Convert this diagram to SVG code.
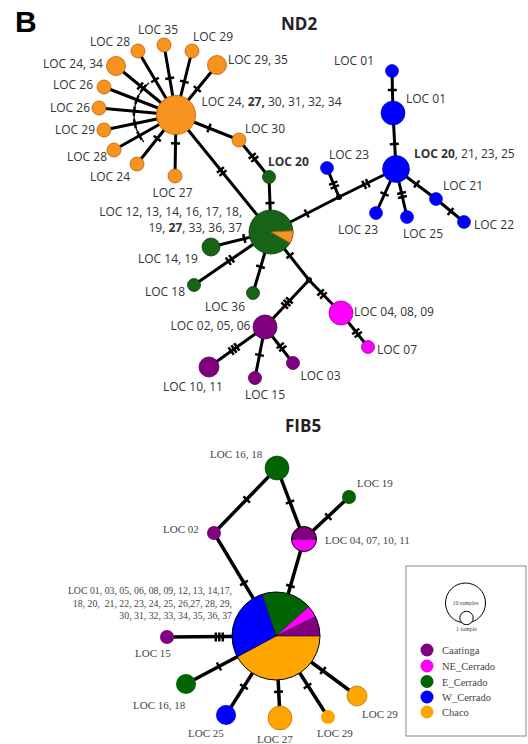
<svg xmlns="http://www.w3.org/2000/svg" xmlns:xlink="http://www.w3.org/1999/xlink" width="528" height="744" viewBox="0 0 528 744">
<style>
.e{stroke:#000;stroke-width:3;fill:none}
.fe{stroke:#000;stroke-width:3.5;fill:none}
.tk line{stroke:#000;stroke-width:2.5}
.lb{font-family:"Open Sans",sans-serif;font-size:12px;fill:#333}
.b{font-weight:bold}
.fl{font-family:"Liberation Serif",serif;font-size:11px;fill:#444}
.fs{font-family:"Liberation Serif",serif;font-size:9.8px;fill:#444}
.or{fill:#F7931E;stroke:#B8600A;stroke-width:0.8}
.gr{fill:#176417;stroke:#0d400d;stroke-width:0.8}
.bl{fill:#0000FF;stroke:#0000b0;stroke-width:0.6}
.pu{fill:#800080;stroke:#500050;stroke-width:0.8}
.ma{fill:#FF00FF;stroke:#a000a0;stroke-width:0.8}
.jn{fill:#000}
.fo{fill:#FFA500}
.fg{fill:#006400}
.fb{fill:#0000FF}
.fp{fill:#800080}
.fm{fill:#FF00FF}
.ol{fill:none;stroke:#000;stroke-width:1}
</style>
<defs>
<g id="t1" class="tk"><line x1="0" y1="-4.5" x2="0" y2="4.5"/></g>
<g id="t2" class="tk"><line x1="-2" y1="-4.5" x2="-2" y2="4.5"/><line x1="2" y1="-4.5" x2="2" y2="4.5"/></g>
<g id="t3" class="tk"><line x1="-3.5" y1="-4.5" x2="-3.5" y2="4.5"/><line x1="0" y1="-4.5" x2="0" y2="4.5"/><line x1="3.5" y1="-4.5" x2="3.5" y2="4.5"/></g>
</defs>
<rect width="528" height="744" fill="#fff"/>
<text x="15" y="32" style="font-family:'Liberation Sans',sans-serif;font-size:30px;font-weight:bold" fill="#000">B</text>
<text x="281" y="30" style="font-family:'Open Sans',sans-serif;font-size:17px;font-weight:bold" fill="#222">ND2</text>
<text x="285" y="432" style="font-family:'Open Sans',sans-serif;font-size:17px;font-weight:bold" fill="#222">FIB5</text>

<g id="connectors">
<g id="nd2-edges">
<path class="e" d="M176,115L138,51M176,115L164,45M176,115L192,51M176,115L217,65M176,115L116,66M176,115L104,87M176,115L99,108M176,115L104,130M176,115L114,150M176,115L137,164M176,115L175,176M176,115L239,140M176,115L271,232"/>
<path class="e" d="M239,140L269,177M269,177L271,232"/>
<path class="e" d="M271,232L211,247M271,232L194,285M271,232L253,293M271,232L309,280M271,232L339,197"/>
<path class="e" d="M339,197L327,168M339,197L396,169M396,169L393,113M393,113L392,71M396,169L376,213M396,169L407,217M396,169L436,199M436,199L464,222"/>
<path class="e" d="M309,280L265,327M309,280L341,313M341,313L368,347M265,327L209,367M265,327L255,378M265,327L293,363"/>
<path d="M149,82.8A42,42 0 0 0 143.8,142" fill="none" stroke="#000" stroke-width="1.2"/>
<use href="#t1" transform="translate(155,80) rotate(-120.7)"/>
<use href="#t1" transform="translate(169.7,78.3) rotate(-99.7)"/>
<use href="#t1" transform="translate(184.3,81.7) rotate(-76)"/>
<use href="#t1" transform="translate(197.3,89) rotate(-50.6)"/>
<use href="#t2" transform="translate(141.7,87.3) rotate(-140.8)"/>
<use href="#t1" transform="translate(136.9,99.8) rotate(-158.7)"/>
<use href="#t1" transform="translate(134.2,111.2) rotate(-174.8)"/>
<use href="#t1" transform="translate(134.9,123.6) rotate(168.2)"/>
<use href="#t1" transform="translate(139.4,135.6) rotate(150.6)"/>
<use href="#t1" transform="translate(157.3,138.5) rotate(128.5)"/>
<use href="#t1" transform="translate(175.6,143.3) rotate(91)"/>
<use href="#t1" transform="translate(209,128) rotate(21.6)"/>
<use href="#t2" transform="translate(221.7,171.5) rotate(50.9)"/>
<use href="#t2" transform="translate(253.5,157.5) rotate(51)"/>
<use href="#t1" transform="translate(270,203) rotate(88)"/>
<use href="#t1" transform="translate(244.3,238.5) rotate(166)"/>
<use href="#t2" transform="translate(230,260) rotate(145.5)"/>
<use href="#t1" transform="translate(260.5,266.7) rotate(106.4)"/>
<use href="#t1" transform="translate(290,255.5) rotate(51)"/>
<use href="#t3" transform="translate(287,303) rotate(133)"/>
<use href="#t2" transform="translate(322,294) rotate(45.9)"/>
<use href="#t2" transform="translate(357,333) rotate(51.5)"/>
<use href="#t3" transform="translate(234,349) rotate(144.5)"/>
<use href="#t1" transform="translate(259.5,355) rotate(101)"/>
<use href="#t2" transform="translate(281.5,347) rotate(52)"/>
<use href="#t1" transform="translate(306.7,213.5) rotate(-27.2)"/>
<use href="#t2" transform="translate(334,185) rotate(-112.5)"/>
<use href="#t2" transform="translate(366,184) rotate(-26.2)"/>
<use href="#t1" transform="translate(394.3,144) rotate(-93)"/>
<use href="#t1" transform="translate(392.3,90) rotate(-91.4)"/>
<use href="#t1" transform="translate(384.5,194) rotate(114.4)"/>
<use href="#t2" transform="translate(402,195) rotate(77)"/>
<use href="#t1" transform="translate(416.7,184) rotate(36.9)"/>
<use href="#t1" transform="translate(450.5,211.5) rotate(39.4)"/>
</g>
<g id="fib5-edges">
<path class="fe" d="M277,468L214,533M277,468L304,539M349,497L304,539M214,533L276,636M304,539L276,636M167,637L276,636M276,636L186,684M276,636L226,715M276,636L280,718M276,636L328,717M276,636L357,696"/>
<use href="#t1" transform="translate(246.7,499.5) rotate(134)"/>
<use href="#t1" transform="translate(290,502) rotate(69)"/>
<use href="#t1" transform="translate(328.3,516.7) rotate(137)"/>
<use href="#t1" transform="translate(244,583) rotate(59)"/>
<use href="#t1" transform="translate(290.4,586) rotate(106)"/>
<use href="#t3" transform="translate(219.3,637) rotate(0)"/>
<use href="#t1" transform="translate(219,666.5) rotate(152)"/>
<use href="#t1" transform="translate(244,686.7) rotate(122)"/>
<use href="#t1" transform="translate(278.5,691.7) rotate(87)"/>
<use href="#t1" transform="translate(307.5,686) rotate(57)"/>
<use href="#t1" transform="translate(323,670.5) rotate(36.5)"/>
</g>
</g>

<!-- ND2 nodes -->
<g id="o-hub"><circle class="or" cx="176" cy="115" r="19.5"/><text class="lb" x="201.5" y="106">LOC 24, <tspan class="b">27,</tspan> 30, 31, 32, 34</text></g>
<g id="o-28a"><circle class="or" cx="138" cy="51" r="7"/><text class="lb" x="90" y="46">LOC 28</text></g>
<g id="o-35"><circle class="or" cx="164" cy="45" r="7"/><text class="lb" x="138" y="34">LOC 35</text></g>
<g id="o-29a"><circle class="or" cx="192" cy="51" r="7"/><text class="lb" x="193" y="41">LOC 29</text></g>
<g id="o-2935"><circle class="or" cx="217" cy="65" r="9.5"/><text class="lb" x="228" y="64">LOC 29, 35</text></g>
<g id="o-2434"><circle class="or" cx="116" cy="66" r="9.5"/><text class="lb" x="43" y="68">LOC 24, 34</text></g>
<g id="o-26a"><circle class="or" cx="104" cy="87" r="7"/><text class="lb" x="53" y="89">LOC 26</text></g>
<g id="o-26b"><circle class="or" cx="99" cy="108" r="7"/><text class="lb" x="50" y="112">LOC 26</text></g>
<g id="o-29b"><circle class="or" cx="104" cy="130" r="7"/><text class="lb" x="55" y="134">LOC 29</text></g>
<g id="o-28b"><circle class="or" cx="114" cy="150" r="7"/><text class="lb" x="67" y="161">LOC 28</text></g>
<g id="o-24"><circle class="or" cx="137" cy="164" r="7"/><text class="lb" x="90" y="181">LOC 24</text></g>
<g id="o-27"><circle class="or" cx="175" cy="176" r="7"/><text class="lb" x="152.5" y="197">LOC 27</text></g>
<g id="o-30"><circle class="or" cx="239" cy="140" r="7"/><text class="lb" x="245" y="133">LOC 30</text></g>
<g id="g-20"><circle class="gr" cx="269" cy="177" r="6.5"/><text class="lb b" x="268" y="166">LOC 20</text></g>
<g id="g-hub"><circle class="gr" cx="271" cy="232" r="22"/><path class="or" d="M271,232L293,230.8A22,22 0 0 1 290.1,243Z"/>
<text class="lb" x="242" y="216" text-anchor="end">LOC 12, 13, 14, 16, 17, 18,</text>
<text class="lb" x="242" y="232" text-anchor="end">19, <tspan class="b">27</tspan>, 33, 36, 37</text></g>
<g id="g-1419"><circle class="gr" cx="211" cy="247" r="9"/><text class="lb" x="138" y="263">LOC 14, 19</text></g>
<g id="g-18"><circle class="gr" cx="194" cy="285" r="6.5"/><text class="lb" x="145" y="296">LOC 18</text></g>
<g id="g-36"><circle class="gr" cx="253" cy="293" r="6.5"/><text class="lb" x="205" y="311">LOC 36</text></g>
<g id="j1"><circle class="jn" cx="309" cy="280" r="3"/></g>
<g id="j2"><circle class="jn" cx="339" cy="197" r="3"/></g>
<g id="b-23a"><circle class="bl" cx="327" cy="168" r="6.5"/><text class="lb" x="329" y="159">LOC 23</text></g>
<g id="b-hub"><circle class="bl" cx="396" cy="169" r="13.5"/><text class="lb" x="414" y="158"><tspan class="b">LOC 20</tspan>, 21, 23, 25</text></g>
<g id="b-01b"><circle class="bl" cx="393" cy="113" r="12"/><text class="lb" x="406" y="103">LOC 01</text></g>
<g id="b-01a"><circle class="bl" cx="392" cy="71" r="6.5"/><text class="lb" x="334" y="65">LOC 01</text></g>
<g id="b-23b"><circle class="bl" cx="376" cy="213" r="6.5"/><text class="lb" x="338" y="234">LOC 23</text></g>
<g id="b-25"><circle class="bl" cx="407" cy="217" r="6.5"/><text class="lb" x="403" y="238">LOC 25</text></g>
<g id="b-21"><circle class="bl" cx="436" cy="199" r="6.5"/><text class="lb" x="443" y="190">LOC 21</text></g>
<g id="b-22"><circle class="bl" cx="464" cy="222" r="6.5"/><text class="lb" x="474" y="229">LOC 22</text></g>
<g id="p-hub"><circle class="pu" cx="265" cy="327" r="12"/><text class="lb" x="170.5" y="330">LOC 02, 05, 06</text></g>
<g id="p-1011"><circle class="pu" cx="209" cy="367" r="10"/><text class="lb" x="163" y="391">LOC 10, 11</text></g>
<g id="p-15"><circle class="pu" cx="255" cy="378" r="6.5"/><text class="lb" x="245" y="399">LOC 15</text></g>
<g id="p-03"><circle class="pu" cx="293" cy="363" r="6.5"/><text class="lb" x="300.5" y="380">LOC 03</text></g>
<g id="m-hub"><circle class="ma" cx="341" cy="313" r="12"/><text class="lb" x="354" y="316">LOC 04, 08, 09</text></g>
<g id="m-07"><circle class="ma" cx="368" cy="347" r="6.5"/><text class="lb" x="377" y="354">LOC 07</text></g>

<!-- FIB5 nodes -->
<g id="f-1618a"><circle class="fg" cx="277" cy="468" r="12" stroke="#004000" stroke-width="0.6"/><text class="fl" x="210" y="458">LOC 16, 18</text></g>
<g id="f-19"><circle class="fg" cx="349" cy="497" r="7"/><text class="fl" x="357" y="487">LOC 19</text></g>
<g id="f-02"><circle class="fp" cx="214" cy="533" r="7"/><text class="fl" x="163" y="532.5">LOC 02</text></g>
<g id="f-04"><path class="fp" d="M291.5,539A12.5,12.5 0 0 1 316.5,539Z"/><path class="fm" d="M291.5,539A12.5,12.5 0 0 0 316.5,539Z"/><circle class="ol" cx="304" cy="539" r="12.5"/><line x1="291.5" y1="539" x2="316.5" y2="539" stroke="#000" stroke-width="0.8"/><text class="fl" x="325" y="544">LOC 04, 07, 10, 11</text></g>
<g id="f-hub">
<path class="fo" d="M276,636L320,636A44,44 0 0 1 237.3,656.9Z"/>
<path class="fb" d="M276,636L237.3,656.9A44,44 0 0 1 262.4,594.2Z"/>
<path class="fg" d="M276,636L262.4,594.2A44,44 0 0 1 308.7,606.6Z"/>
<path class="fm" d="M276,636L308.7,606.6A44,44 0 0 1 315.5,616.7Z"/>
<path class="fp" d="M276,636L315.5,616.7A44,44 0 0 1 320,636Z"/>
<path d="M320,636L276,636L237.3,656.9M276,636L262.4,594.2M276,636L308.7,606.6M276,636L315.5,616.7" fill="none" stroke="#000" stroke-width="0.6"/>
<circle class="ol" cx="276" cy="636" r="44"/>
<text class="fs" x="232" y="594" text-anchor="end">LOC 01, 03, 05, 06, 08, 09, 12, 13, 14,17,</text>
<text class="fs" x="232" y="607" text-anchor="end" xml:space="preserve">18, 20,  21, 22, 23, 24, 25, 26,27, 28, 29,</text>
<text class="fs" x="232" y="619" text-anchor="end">30, 31, 32, 33, 34, 35, 36, 37</text>
</g>
<g id="f-15"><circle class="fp" cx="167" cy="637" r="7"/><text class="fl" x="135" y="657">LOC 15</text></g>
<g id="f-1618b"><circle class="fg" cx="186" cy="684" r="10"/><text class="fl" x="133" y="709">LOC 16, 18</text></g>
<g id="f-25"><circle class="fb" cx="226" cy="715" r="10"/><text class="fl" x="188" y="737">LOC 25</text></g>
<g id="f-27"><circle class="fo" cx="280" cy="718" r="12" stroke="#a06000" stroke-width="0.6"/><text class="fl" x="257" y="743">LOC 27</text></g>
<g id="f-29a"><circle class="fo" cx="328" cy="717" r="7"/><text class="fl" x="317" y="737">LOC 29</text></g>
<g id="f-29b"><circle class="fo" cx="357" cy="696" r="10" stroke="#a06000" stroke-width="0.6"/><text class="fl" x="362" y="718">LOC 29</text></g>

<!-- legend -->
<g id="legend">
<rect x="406" y="566" width="120" height="170" fill="#fff" stroke="#888" stroke-width="1"/>
<circle cx="465.5" cy="603" r="20" fill="none" stroke="#000" stroke-width="1"/>
<circle cx="466.5" cy="618" r="6.7" fill="#fff" stroke="#000" stroke-width="1"/>
<text x="465.5" y="604.5" text-anchor="middle" style="font-family:'Liberation Serif',serif;font-size:5.8px" fill="#444">10 samples</text>
<text x="466.5" y="631" text-anchor="middle" style="font-family:'Liberation Serif',serif;font-size:5.8px" fill="#444">1 sample</text>
<circle class="fp" cx="427" cy="650" r="6.5"/><text class="fl" x="442" y="654" style="font-size:10.5px">Caatinga</text>
<circle class="fm" cx="427" cy="666" r="6.5"/><text class="fl" x="442" y="670" style="font-size:10.5px">NE_Cerrado</text>
<circle class="fg" cx="427" cy="681.5" r="6.5"/><text class="fl" x="442" y="685.5" style="font-size:10.5px">E_Cerrado</text>
<circle class="fb" cx="427" cy="697" r="6.5"/><text class="fl" x="442" y="701" style="font-size:10.5px">W_Cerrado</text>
<circle class="fo" cx="427" cy="712" r="6.5"/><text class="fl" x="442" y="716" style="font-size:10.5px">Chaco</text>
</g>
</svg>
